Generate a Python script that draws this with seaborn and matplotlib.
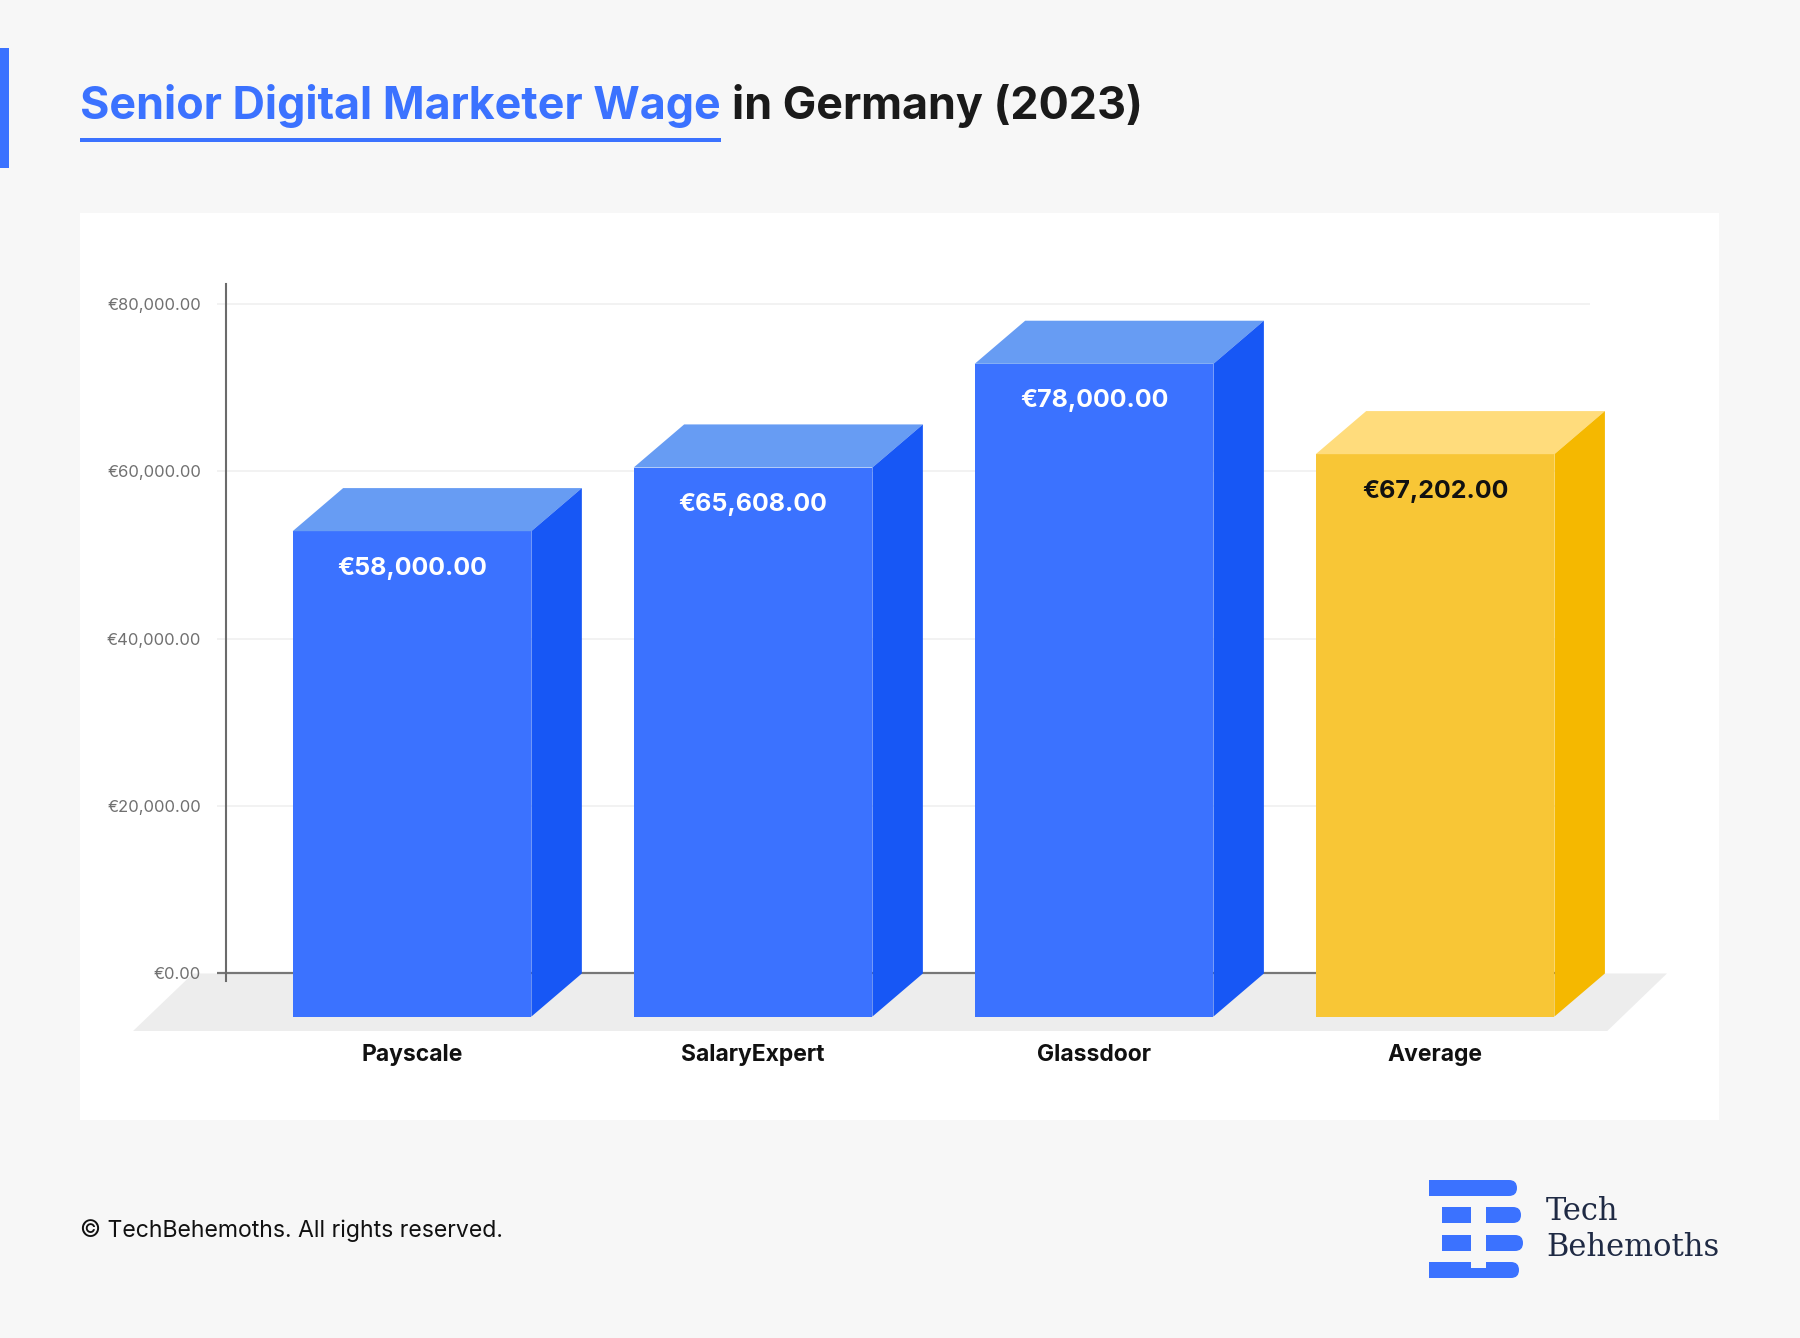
import matplotlib
matplotlib.use("Agg")
import matplotlib.pyplot as plt
from matplotlib.patches import Polygon, Rectangle, FancyBboxPatch
import seaborn as sns

# =====================================================
# DATA
# =====================================================

SOURCES = ["Payscale", "SalaryExpert", "Glassdoor", "Average"]
WAGES = [58000, 65608, 78000, 67202]
WAGE_LABELS = ["€58,000.00", "€65,608.00", "€78,000.00", "€67,202.00"]

Y_TICKS = [0, 20000, 40000, 60000, 80000]
Y_TICK_LABELS = ["€0.00", "€20,000.00", "€40,000.00", "€60,000.00", "€80,000.00"]

TITLE_BLUE = "Senior Digital Marketer Wage"
TITLE_BLACK = "in Germany (2023)"
FOOTER = "© TechBehemoths. All rights reserved."

# =====================================================
# STYLE
# =====================================================

W, H = 1800, 1338

BLUE = "#3b72ff"
BG = "#f7f7f7"

FRONT = ["#3b72ff", "#3b72ff", "#3b72ff", "#f8c636"]
TOP = ["#679cf3", "#679cf3", "#679cf3", "#ffdc7c"]
SIDE = ["#1757f5", "#1757f5", "#1757f5", "#f5b800"]
LABEL_COLORS = ["white", "white", "white", "#111111"]

# 3d depth of the boxes (data units)
DX = 0.148
DY = 5150

sns.set_theme(style="white")
plt.rcParams["font.family"] = ["Inter", "DejaVu Sans"]


def fx(px):
    return px / W


def fy(py):
    return 1 - py / H


fig = plt.figure(figsize=(18, 13.38), dpi=100)
fig.patch.set_facecolor(BG)

# white chart panel
fig.add_artist(Rectangle((fx(80), fy(1120)), fx(1719) - fx(80), (1120 - 213) / H,
                         transform=fig.transFigure, facecolor="white",
                         edgecolor="none", zorder=0))

# left accent bar
fig.add_artist(Rectangle((0, fy(168)), fx(9), 120 / H,
                         transform=fig.transFigure, facecolor=BLUE,
                         edgecolor="none"))

# =====================================================
# TITLE
# =====================================================

t1 = fig.text(fx(80), fy(119), TITLE_BLUE, color=BLUE, fontsize=32.3,
              fontweight="bold", va="baseline")
fig.canvas.draw()
bb = t1.get_window_extent()
fig.text(fx(bb.x1 + 11), fy(119), TITLE_BLACK, color="#1a1a1a", fontsize=32.3,
         fontweight="bold", va="baseline")
fig.add_artist(Rectangle((fx(80), fy(142)), fx(bb.x1) - fx(80), 4 / H,
                         transform=fig.transFigure, facecolor=BLUE,
                         edgecolor="none"))

# =====================================================
# CHART
# =====================================================

ax = fig.add_axes([fx(226), fy(1035.4), (1742 - 226) / W, (1035.4 - 270.5) / H])
ax.set_facecolor("none")

sns.barplot(x=SOURCES, y=WAGES, hue=SOURCES, palette=FRONT, width=0.7,
            saturation=1, linewidth=0, errorbar=None, legend=False,
            ax=ax, zorder=4)

ax.set_xlim(-0.5455, 3.9)
ax.set_ylim(-7400, 84000)
ax.set_axisbelow(False)

# gridlines + zero line
ax.hlines(Y_TICKS[1:], -0.573, 3.455, color="#f0f0f0", lw=1.2, zorder=0,
          clip_on=False)

# floor
floor = Polygon([(-0.818, -6871), (3.505, -6871), (3.68, 0), (-0.642, 0)],
                closed=True, facecolor="#ededed", edgecolor="none", zorder=1,
                clip_on=False)
ax.add_patch(floor)
ax.hlines(0, -0.573, 3.455, color="#777777", lw=1.6, zorder=2, clip_on=False)

# 3d faces
for i, container in enumerate(ax.containers):
    bar = container[0]
    bar.set_y(bar.get_y() - DY)
    x0 = bar.get_x()
    x1 = x0 + bar.get_width()
    v = WAGES[i]
    t = v - DY
    ax.add_patch(Polygon([(x0, t), (x1, t), (x1 + DX, v), (x0 + DX, v)],
                         closed=True, facecolor=TOP[i], edgecolor="none",
                         zorder=4))
    ax.add_patch(Polygon([(x1, t), (x1 + DX, v), (x1 + DX, 0), (x1, -DY)],
                         closed=True, facecolor=SIDE[i], edgecolor="none",
                         zorder=4))
    ax.text(i, t - 4420, WAGE_LABELS[i], ha="center", va="center",
            color=LABEL_COLORS[i], fontsize=18, fontweight="bold", zorder=6)

sns.despine(ax=ax, left=False, bottom=True, right=True, top=True)
ax.spines["left"].set_bounds(-950, 82440)
ax.spines["left"].set_color("#6b6b6b")
ax.spines["left"].set_linewidth(1.5)
ax.spines["left"].set_zorder(3)

ax.set_yticks(Y_TICKS)
ax.set_yticklabels(Y_TICK_LABELS)
ax.tick_params(axis="y", length=0, pad=18, labelsize=12, labelcolor="#707070")

ax.set_xticks(range(len(SOURCES)))
ax.set_xticklabels(SOURCES, fontweight="bold")
ax.tick_params(axis="x", length=0, pad=6, labelsize=16.5, labelcolor="#111111")

ax.set_xlabel("")
ax.set_ylabel("")
ax.grid(False)

# =====================================================
# FOOTER + LOGO
# =====================================================

fig.text(fx(80), fy(1231), FOOTER, va="center", fontsize=16.6, color="#111111")

fig.text(fx(1546), fy(1211), "Tech", va="center", fontsize=22,
         family="DejaVu Serif", color="#1f2a44")
fig.text(fx(1546), fy(1247), "Behemoths", va="center", fontsize=22,
         family="DejaVu Serif", color="#1f2a44")

logo = fig.add_axes([fx(1429), fy(1278), 94 / W, 98 / H])
logo.set_xlim(0, 94)
logo.set_ylim(98, 0)
logo.axis("off")


def rounded_piece(x0, y0, x1, y1, r=8):
    logo.add_patch(FancyBboxPatch((x0, y0), x1 - x0, y1 - y0,
                                  boxstyle=f"round,pad=0,rounding_size={r}",
                                  facecolor=BLUE, edgecolor="none"))
    logo.add_patch(Rectangle((x0, y0), (x1 - x0) / 2, y1 - y0,
                             facecolor=BLUE, edgecolor="none"))


rounded_piece(0, 0, 88, 16, r=8)
logo.add_patch(Rectangle((13, 27), 29, 16, facecolor=BLUE, edgecolor="none"))
rounded_piece(57, 27, 92, 43, r=8)
logo.add_patch(Rectangle((13, 55), 29, 16, facecolor=BLUE, edgecolor="none"))
rounded_piece(57, 55, 94, 71, r=8)
rounded_piece(0, 82, 90, 98, r=8)
logo.add_patch(Rectangle((42, 81), 15, 7, facecolor=BG, edgecolor="none"))

fig.savefig("out.png", dpi=100, facecolor=BG)
